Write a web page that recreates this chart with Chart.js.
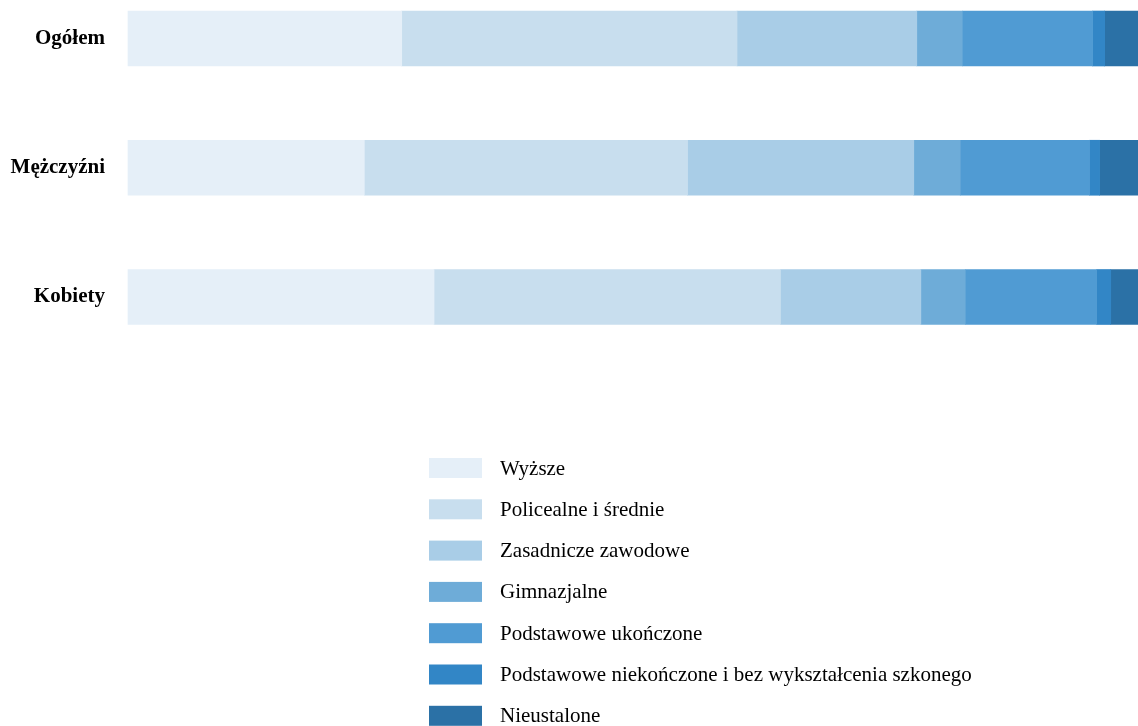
<!DOCTYPE html>
<html>
<head>
<meta charset="utf-8">
<script src="https://cdn.jsdelivr.net/npm/chart.js@4/dist/chart.umd.min.js"></script>
<style>
  html, body { margin: 0; padding: 0; background: #fff; }
  #wrap { width: 1138px; height: 726px; position: relative; }
</style>
</head>
<body>
<div id="wrap"><canvas id="chart"></canvas></div>
<script>
// grupy i odsetki (%) wg poziomu wykształcenia
const categories = ['Ogółem', 'Mężczyźni', 'Kobiety'];
const levels = [
    'Wyższe',
    'Policealne i średnie',
    'Zasadnicze zawodowe',
    'Gimnazjalne',
    'Podstawowe ukończone',
    'Podstawowe niekończone i bez wykształcenia szkonego',
    'Nieustalone'
];
const wyzsze = [27.1, 23.4, 30.3];
const policealne = [33.2, 32.0, 34.3];
const zasadnicze = [17.8, 22.4, 13.9];
const gimnazjalne = [4.5, 4.6, 4.4];
const podstawowe = [12.9, 12.8, 13.0];
const niekonczone = [1.2, 1.0, 1.4];
const nieustalone = [3.3, 3.8, 2.7];

const colors = ['#e5eff8', '#c8deee', '#a9cde7', '#6eacd8', '#509bd3', '#3286c6', '#2b71a6'];
const series = [wyzsze, policealne, zasadnicze, gimnazjalne, podstawowe, niekonczone, nieustalone];

const serif = '"Liberation Serif", "Times New Roman", serif';

// legenda pionowa pod wykresem
const listLegend = {
    id: 'listLegend',
    afterDraw(chart) {
        const ctx = chart.ctx;
        ctx.save();
        ctx.font = '21px ' + serif;
        ctx.textBaseline = 'middle';
        chart.data.datasets.forEach((ds, i) => {
            const y = 468 + i * 41.3;
            ctx.fillStyle = ds.backgroundColor;
            ctx.fillRect(429, y - 10, 53, 20);
            ctx.fillStyle = '#000';
            ctx.fillText(ds.label, 500, y + 1);
        });
        ctx.restore();
    }
};

new Chart(document.getElementById('chart'), {
    type: 'bar',
    data: {
        labels: categories,
        datasets: series.map((values, i) => ({
            label: levels[i],
            data: values,
            backgroundColor: colors[i],
            borderWidth: 0,
            barThickness: 55,
            clip: false
        }))
    },
    options: {
        indexAxis: 'y',
        responsive: true,
        maintainAspectRatio: false,
        animation: false,
        layout: { padding: { top: 38.5, bottom: 429, left: 0, right: 0 } },
        scales: {
            x: {
                stacked: true,
                min: 0,
                max: 100,
                display: false
            },
            y: {
                stacked: true,
                offset: false,
                grid: { display: false, drawTicks: false },
                border: { display: false },
                ticks: {
                    color: '#000',
                    padding: 23,
                    font: { family: serif, size: 21, weight: 'bold' }
                },
                afterFit(scale) { scale.width = 128; }
            }
        },
        plugins: {
            legend: { display: false },
            title: { display: false }
        }
    },
    plugins: [listLegend]
});
</script>
</body>
</html>
